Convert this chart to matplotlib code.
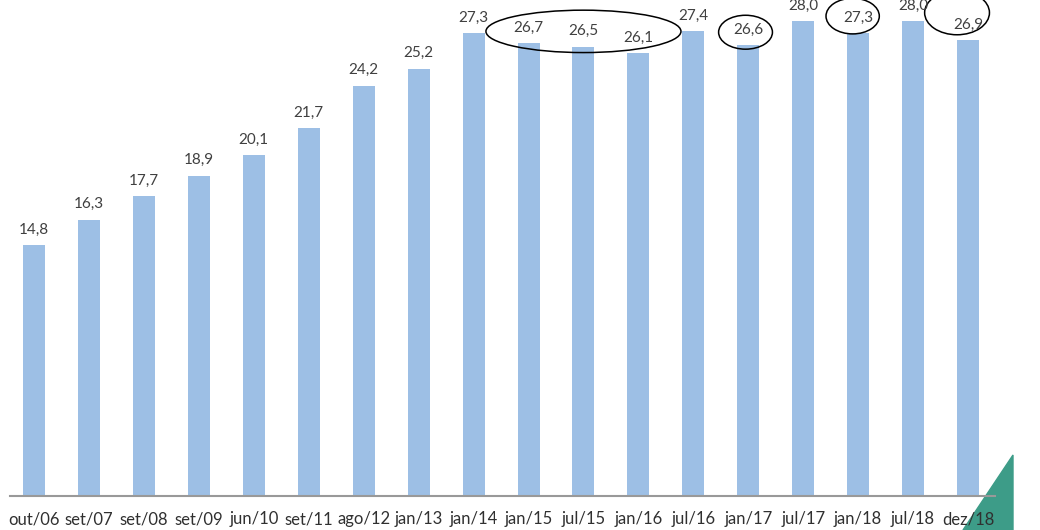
import matplotlib.pyplot as plt
from matplotlib.patches import Ellipse, Polygon

periods = ["out/06", "set/07", "set/08", "set/09", "jun/10", "set/11", "ago/12", "jan/13",
           "jan/14", "jan/15", "jul/15", "jan/16", "jul/16", "jan/17", "jul/17", "jan/18",
           "jul/18", "dez/18"]
values = [14.8, 16.3, 17.7, 18.9, 20.1, 21.7, 24.2, 25.2, 27.3, 26.7, 26.5, 26.1,
          27.4, 26.6, 28.0, 27.3, 28.0, 26.9]

# highlighted groups: (first index, last index)
circled = [(9, 11), (13, 13), (15, 15), (17, 17)]

plt.rcParams['font.family'] = ['Lato', 'DejaVu Sans']

fig = plt.figure(figsize=(10.4, 5.3), dpi=100)
ax = fig.add_axes([0, 34 / 530, 1, 496 / 530])
ax.patch.set_visible(False)

x = range(len(values))
bars = ax.bar(x, values, width=0.4, color="#9dbfe5")

for b, v in zip(bars, values):
    ax.annotate(f"{v:.1f}".replace(".", ","), (b.get_x() + b.get_width() / 2, v),
                xytext=(0, 6), textcoords="offset points", ha="center", va="bottom",
                fontsize=11, color="#404040")

ax.set_xlim(-0.62, 18.31)
ax.set_ylim(0, 29.25)
ax.set_xticks(list(x))
ax.set_xticklabels(periods, fontsize=12, color="#303030")
ax.tick_params(axis="x", length=0, pad=11)
ax.set_yticks([])
for s in ["top", "left", "right"]:
    ax.spines[s].set_visible(False)
ax.spines["bottom"].set_color("#999999")
ax.spines["bottom"].set_linewidth(1.5)
ax.spines["bottom"].set_bounds(-0.44, 17.5)

# ellipses around the highlighted labels
sizes = {(9, 11): (3.55, 2.5, 0.0, 0.7), (13, 13): (0.98, 2.0, -0.05, 0.75),
         (15, 15): (0.97, 2.1, -0.1, 1.0), (17, 17): (1.18, 2.6, -0.2, 1.6)}
for g in circled:
    w, h, dx, dy = sizes[g]
    cx = (g[0] + g[1]) / 2 + dx
    cy = max(values[g[0]:g[1] + 1]) + dy
    ax.add_patch(Ellipse((cx, cy), w, h, fill=False, edgecolor="black", linewidth=1.1,
                         clip_on=False))

# green corner decoration, behind the text
fig.patches.append(Polygon([(1013 / 1040, 75 / 530), (963 / 1040, 0), (1013 / 1040, 0)],
                           closed=True, transform=fig.transFigure, color="#3d9c88",
                           zorder=-1))

fig.savefig("out.png", dpi=100)
